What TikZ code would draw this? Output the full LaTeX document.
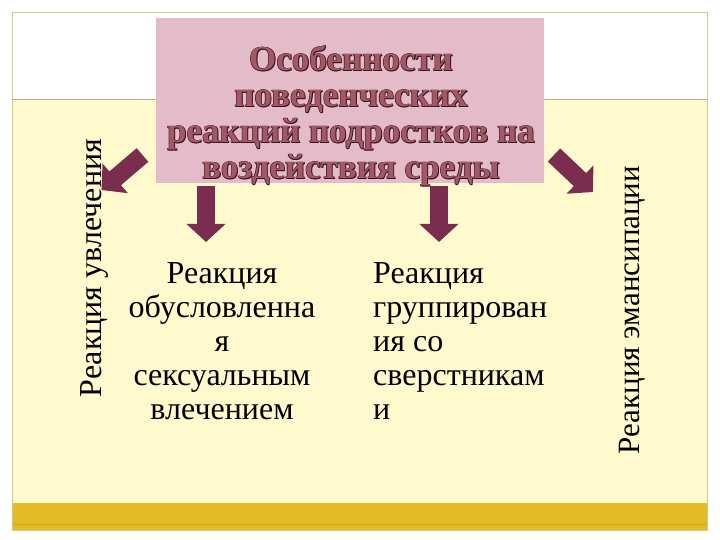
\documentclass[tikz,border=0pt]{standalone}
\usepackage{fontspec}
\setmainfont{Liberation Serif}
\usetikzlibrary{arrows.meta}
\definecolor{cream}{RGB}{255,250,205}
\definecolor{gold}{RGB}{227,187,36}
\definecolor{golddark}{RGB}{205,165,30}
\definecolor{pinkbox}{RGB}{228,187,200}
\definecolor{arrowc}{RGB}{123,45,79}
\definecolor{titlefill}{RGB}{163,88,106}
\definecolor{titledark}{RGB}{55,22,28}
\definecolor{framec}{RGB}{214,200,140}
\definecolor{linec}{RGB}{196,176,132}
\newcommand\embcopy[3]{\makebox[0pt][l]{\color{titledark}\kern#1\raisebox{#2}{#3}}}
\newcommand\emb[1]{\embcopy{0.9pt}{-0.9pt}{#1}\embcopy{-0.6pt}{0pt}{#1}\embcopy{0.6pt}{0pt}{#1}\embcopy{0pt}{0.6pt}{#1}\embcopy{0pt}{-0.6pt}{#1}{\color{titlefill}#1}}
\begin{document}
\begin{tikzpicture}[x=1pt,y=-1pt,
  blockarrow/.style={draw=arrowc, line width=18pt, -{Triangle[width=38pt,length=18pt]}},
  body/.style={font=\fontsize{32}{34}\selectfont, inner sep=0pt, text=black},
  sidelabel/.style={inner sep=0pt, text=black, rotate=90, anchor=base}]
\useasboundingbox (0,0) rectangle (720,540);
\fill[white] (0,0) rectangle (720,540);
\fill[cream] (12,100) rectangle (707,503);
\fill[gold] (12,503) rectangle (707,530);
\draw[golddark, line width=0.6pt] (12,524) -- (707,524);
\draw[framec, line width=0.8pt] (12,12) rectangle (707,530);
\draw[linec, line width=1pt] (12,100) -- (707,100);
% title box
\node[fill=pinkbox, minimum width=388pt, minimum height=165pt, inner sep=0pt] (box) at (350,100.5) {};
\node[font=\fontsize{35}{36}\selectfont\bfseries, align=center, inner sep=0pt] (title) at (351,116)
  {\emb{Особенности}\\\emb{поведенческих}\\\emb{реакций подростков на}\\\emb{воздействия среды}};
% labels
\node[sidelabel, font=\fontsize{32}{34}\selectfont] (leftlabel) at (101,268) {Реакция увлечения};
\node[sidelabel, font=\fontsize{31}{34}\selectfont] (rightlabel) at (639,310) {Реакция эмансипации};
\node[body, align=center, anchor=north] (text1) at (222,262) {Реакция\\обусловленна\\я\\сексуальным\\влечением};
\node[body, align=left, anchor=north west] (text2) at (373,262) {Реакция\\группирован\\ия со\\сверстникам\\и};
% arrows
\coordinate (a1s) at (142.5,155); \coordinate (a1e) at (101.5,190);
\coordinate (a2s) at (206,186); \coordinate (a2e) at (206,242);
\coordinate (a3s) at (439,186); \coordinate (a3e) at (439,242);
\coordinate (a4s) at (554,155); \coordinate (a4e) at (593,192);
\draw[blockarrow] (a1s) -- (a1e);
\draw[blockarrow] (a2s) -- (a2e);
\draw[blockarrow] (a3s) -- (a3e);
\draw[blockarrow] (a4s) -- (a4e);
\end{tikzpicture}
\end{document}
